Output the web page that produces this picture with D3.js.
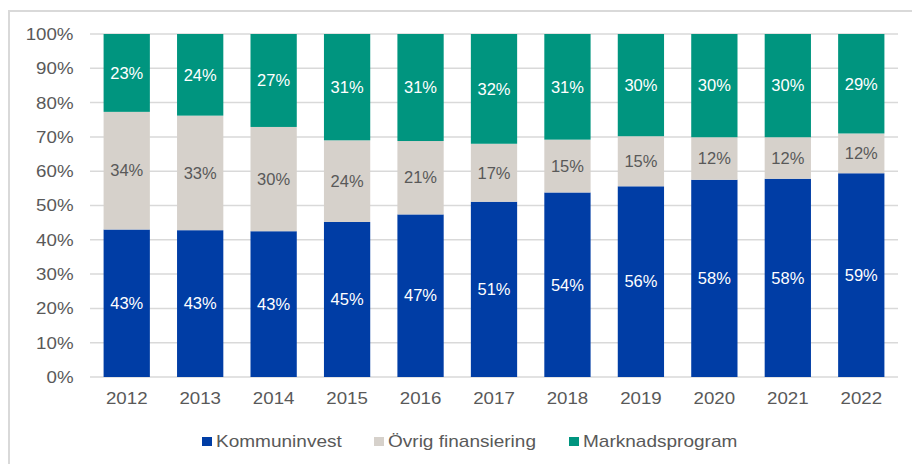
<!DOCTYPE html>
<html>
<head>
<meta charset="utf-8">
<script src="https://cdn.jsdelivr.net/npm/d3@7"></script>
<style>
  body { margin: 0; background: #fff; }
  svg { display: block; font-family: "Liberation Sans", Arial, sans-serif; }
</style>
</head>
<body>
<svg id="chart"></svg>
<script>
// data (share of total, %)
const years = ["2012", "2013", "2014", "2015", "2016", "2017", "2018", "2019", "2020", "2021", "2022"];
const kommuninvest = [43.0, 42.8, 42.5, 45.2, 47.4, 51.1, 53.8, 55.6, 57.5, 57.8, 59.4];
const ovrig = [34.3, 33.4, 30.4, 23.8, 21.4, 16.9, 15.4, 14.6, 12.4, 12.1, 11.6];
const marknad = [22.7, 23.8, 27.1, 31.0, 31.2, 32.0, 30.8, 29.8, 30.1, 30.1, 29.0];
const seriesNames = ["Kommuninvest", "Övrig finansiering", "Marknadsprogram"];
const yTicks = [0, 10, 20, 30, 40, 50, 60, 70, 80, 90, 100];

const colors = ["#003da5", "#d6d1cb", "#00957f"];
const labelColors = ["#ffffff", "#595959", "#ffffff"];

const svgWidth = 912, svgHeight = 464;
const margin = {top: 34, left: 90, right: 14, bottom: 87};
const width = svgWidth - margin.left - margin.right;
const height = svgHeight - margin.top - margin.bottom;

// axis and legend text in the picture is a bit wider than normal
const stretch = "scale(1.1,1)";

const svg = d3.select("#chart")
    .attr("width", svgWidth)
    .attr("height", svgHeight);

// outer frame
svg.append("rect")
    .attr("x", 9).attr("y", 11)
    .attr("width", 930).attr("height", 480)
    .attr("fill", "none")
    .attr("stroke", "#d9d9d9")
    .attr("stroke-width", 2);

const g = svg.append("g")
    .attr("transform", "translate(" + margin.left + "," + margin.top + ")");

const x = d3.scaleBand()
    .domain(years)
    .range([0, width])
    .paddingInner(0.37)
    .paddingOuter(0.185);

const y = d3.scaleLinear()
    .domain([0, 100])
    .range([height, 0]);

// gridlines
g.append("g")
    .selectAll("line")
    .data(yTicks)
    .join("line")
    .attr("x1", 0).attr("x2", width)
    .attr("y1", d => y(d)).attr("y2", d => y(d))
    .attr("stroke", "#d9d9d9")
    .attr("stroke-width", 1.5);

// y axis labels
const yAxis = g.append("g")
    .call(d3.axisLeft(y).tickValues(yTicks).tickSize(0).tickPadding(15).tickFormat(d => d + "%"));
yAxis.select(".domain").remove();
yAxis.selectAll("text")
    .attr("fill", "#595959")
    .attr("transform", stretch)
    .style("font-size", "17px")
    .style("font-family", "'Liberation Sans', Arial, sans-serif");

// x axis labels
const xAxis = g.append("g")
    .attr("transform", "translate(0," + height + ")")
    .call(d3.axisBottom(x).tickSize(0).tickPadding(15));
xAxis.select(".domain").remove();
xAxis.selectAll("text")
    .attr("fill", "#595959")
    .attr("transform", stretch)
    .style("font-size", "17px")
    .style("font-family", "'Liberation Sans', Arial, sans-serif");

// stacked data
const rows = years.map((yr, i) => ({
    year: yr,
    "Kommuninvest": kommuninvest[i],
    "Övrig finansiering": ovrig[i],
    "Marknadsprogram": marknad[i]
}));
const stacked = d3.stack().keys(seriesNames)(rows);

const layers = g.selectAll(".layer")
    .data(stacked)
    .join("g")
    .attr("class", "layer")
    .attr("fill", (d, i) => colors[i]);

layers.selectAll("rect")
    .data(d => d)
    .join("rect")
    .attr("x", d => x(d.data.year))
    .attr("width", x.bandwidth())
    .attr("y", d => y(d[1]))
    .attr("height", d => y(d[0]) - y(d[1]));

// value labels
stacked.forEach((layer, li) => {
    g.append("g")
        .selectAll("text")
        .data(layer)
        .join("text")
        .attr("x", d => x(d.data.year) + x.bandwidth() / 2)
        .attr("y", d => y((d[0] + d[1]) / 2))
        .attr("dy", "0.35em")
        .attr("text-anchor", "middle")
        .attr("fill", labelColors[li])
        .style("font-size", "16.5px")
        .text(d => Math.round(d[1] - d[0] + 1e-6) + "%");
});

// legend
const legendX = [202, 374, 569];
const legend = svg.append("g")
    .selectAll("g")
    .data(seriesNames)
    .join("g")
    .attr("transform", (d, i) => "translate(" + legendX[i] + ",441.5)");
legend.append("rect")
    .attr("x", 0).attr("y", -4.5)
    .attr("width", 10).attr("height", 9)
    .attr("fill", (d, i) => colors[i]);
legend.append("text")
    .attr("x", 12.5)
    .attr("dy", "0.35em")
    .attr("fill", "#595959")
    .attr("transform", "scale(1.12,1)")
    .style("font-size", "17px")
    .text(d => d);
</script>
</body>
</html>
